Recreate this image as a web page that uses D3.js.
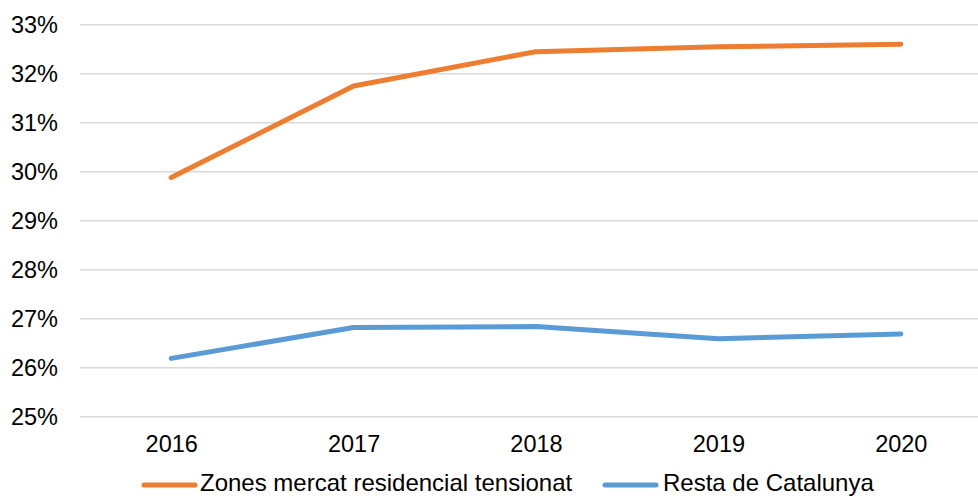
<!DOCTYPE html>
<html>
<head>
<meta charset="utf-8">
<script src="https://cdn.jsdelivr.net/npm/d3@7"></script>
<style>
  html, body { margin: 0; padding: 0; background: #fff; overflow: hidden; }
  svg { display: block; font-family: "Liberation Sans", Arial, sans-serif; }
</style>
</head>
<body>
<svg id="chart" width="978" height="496"></svg>
<script>
const years = ["2016", "2017", "2018", "2019", "2020"];
const zonesTensionades = [29.88, 31.75, 32.45, 32.55, 32.60];
const restaCatalunya = [26.19, 26.82, 26.84, 26.59, 26.69];
const yTicks = [25, 26, 27, 28, 29, 30, 31, 32, 33];
const seriesNames = ["Zones mercat residencial tensionat", "Resta de Catalunya"];
const seriesColors = ["#ED7D31", "#5B9BD5"];

const svg = d3.select("#chart");
const W = 978, H = 496;
const mLeft = 80, mRight = 992, mTop = 24.7, mBottom = 416.7;

const x = d3.scalePoint().domain(years).range([mLeft, mRight]).padding(0.5);
const y = d3.scaleLinear().domain([25, 33]).range([mBottom, mTop]);

// gridlines
svg.append("g").selectAll("line").data(yTicks).join("line")
  .attr("x1", mLeft).attr("x2", W + 20)
  .attr("y1", d => y(d)).attr("y2", d => y(d))
  .attr("stroke", "#D9D9D9").attr("stroke-width", 1.5);

// y axis labels
const yAxis = d3.axisLeft(y).tickValues(yTicks).tickFormat(d => d + "%").tickSize(0).tickPadding(22);
const gy = svg.append("g").attr("transform", `translate(${mLeft},0)`).call(yAxis);
gy.select(".domain").remove();
gy.selectAll("text").attr("font-size", 23.5).attr("fill", "#000")
  .attr("font-family", "Liberation Sans, Arial, sans-serif");

// x axis labels
const xAxis = d3.axisBottom(x).tickSize(0).tickPadding(19);
const gx = svg.append("g").attr("transform", `translate(0,${mBottom})`).call(xAxis);
gx.select(".domain").remove();
gx.selectAll("text").attr("font-size", 23.5).attr("fill", "#000")
  .attr("font-family", "Liberation Sans, Arial, sans-serif");

// lines
const line = d3.line().x((d, i) => x(years[i])).y(d => y(d));
[zonesTensionades, restaCatalunya].forEach((s, k) => {
  svg.append("path").datum(s)
    .attr("d", line)
    .attr("fill", "none")
    .attr("stroke", seriesColors[k])
    .attr("stroke-width", 5)
    .attr("stroke-linejoin", "round")
    .attr("stroke-linecap", "round");
});

// legend
const legendItems = [
  { name: seriesNames[0], color: seriesColors[0], x1: 144, x2: 195, tx: 200 },
  { name: seriesNames[1], color: seriesColors[1], x1: 605, x2: 656, tx: 663 }
];
const ly = 485;
const lg = svg.append("g");
legendItems.forEach(it => {
  lg.append("line").attr("x1", it.x1).attr("x2", it.x2).attr("y1", ly).attr("y2", ly)
    .attr("stroke", it.color).attr("stroke-width", 5).attr("stroke-linecap", "round");
  lg.append("text").attr("x", it.tx).attr("y", 490.5)
    .attr("font-size", 24).attr("fill", "#000").text(it.name);
});
</script>
</body>
</html>
